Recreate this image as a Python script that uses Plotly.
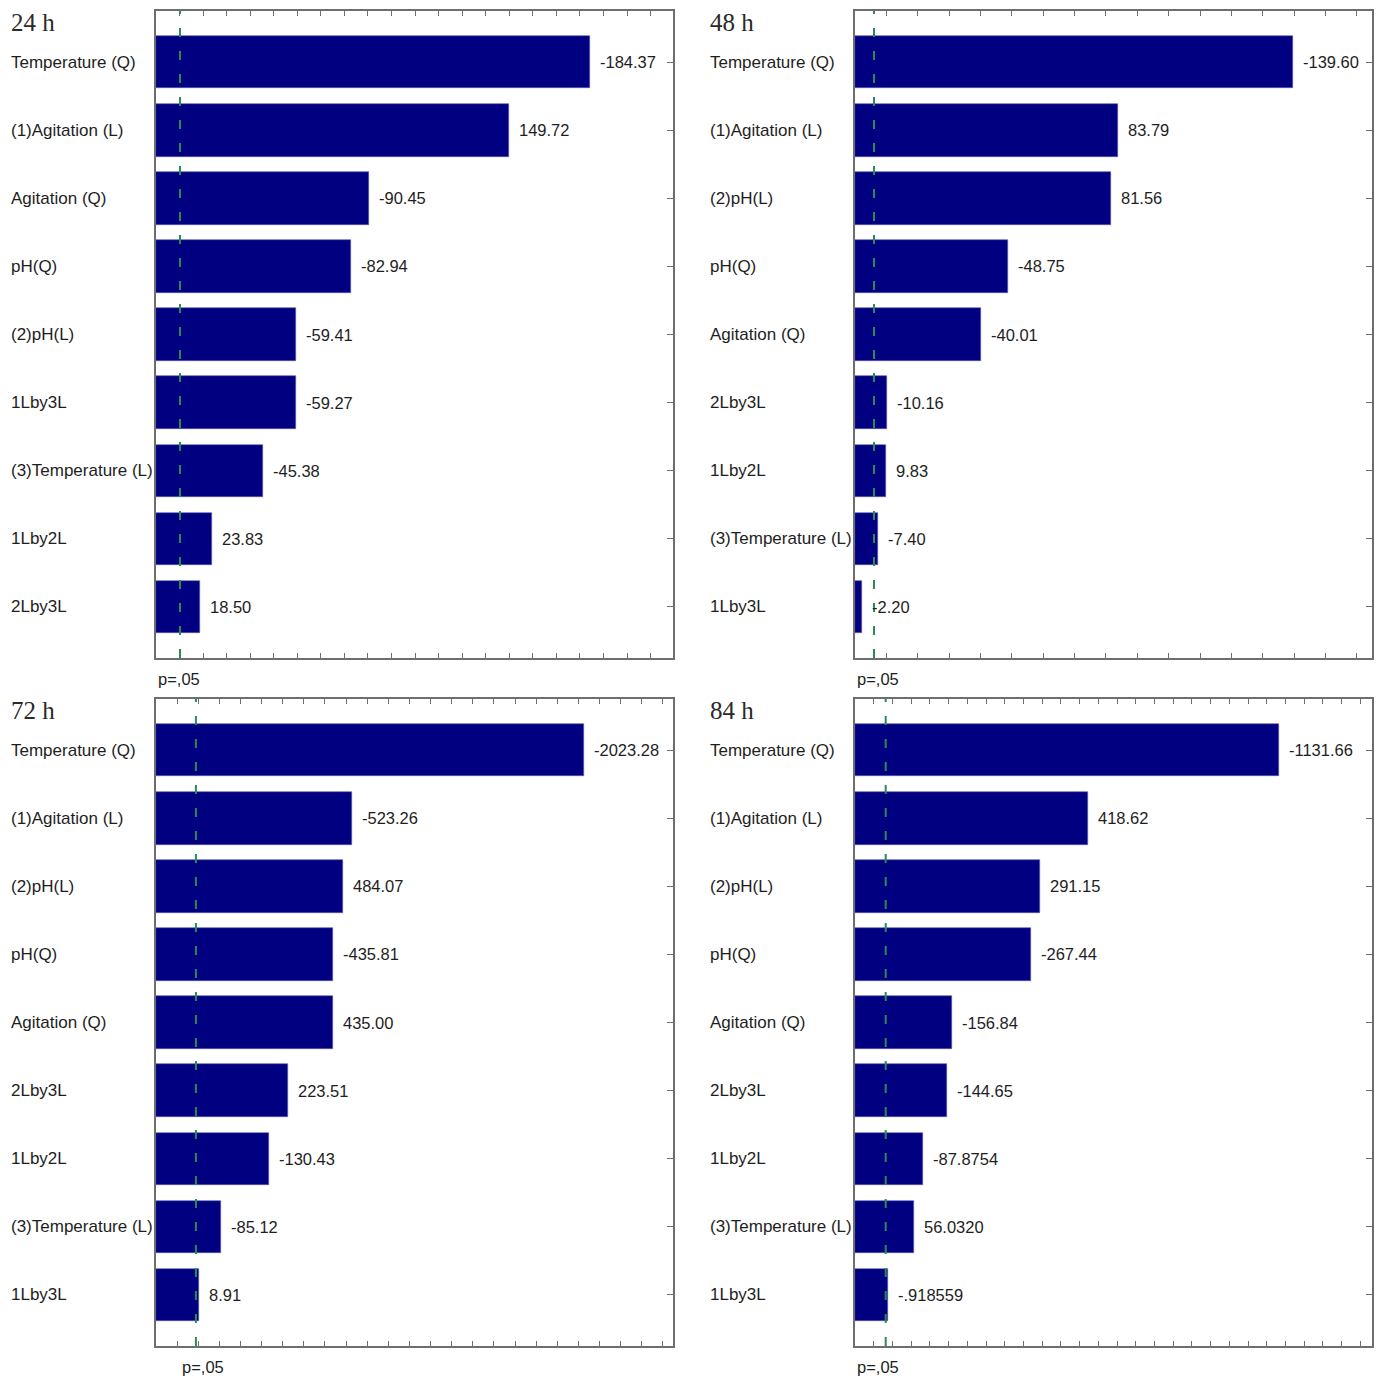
import plotly.graph_objects as go
from plotly.subplots import make_subplots

# ---------------- data ----------------
titles = ["24 h", "48 h", "72 h", "84 h"]

cats_24 = ["Temperature (Q)", "(1)Agitation (L)", "Agitation (Q)", "pH(Q)", "(2)pH(L)",
           "1Lby3L", "(3)Temperature (L)", "1Lby2L", "2Lby3L"]
labels_24 = ["-184.37", "149.72", "-90.45", "-82.94", "-59.41", "-59.27", "-45.38", "23.83", "18.50"]
effects_24 = [184.37, 149.72, 90.45, 82.94, 59.41, 59.27, 45.38, 23.83, 18.50]
p05_24 = 10.2
xmax_24 = 219.5

cats_48 = ["Temperature (Q)", "(1)Agitation (L)", "(2)pH(L)", "pH(Q)", "Agitation (Q)",
           "2Lby3L", "1Lby2L", "(3)Temperature (L)", "1Lby3L"]
labels_48 = ["-139.60", "83.79", "81.56", "-48.75", "-40.01", "-10.16", "9.83", "-7.40", "-2.20"]
effects_48 = [139.60, 83.79, 81.56, 48.75, 40.01, 10.16, 9.83, 7.40, 2.20]
p05_48 = 6.06
xmax_48 = 164.8

cats_72 = ["Temperature (Q)", "(1)Agitation (L)", "(2)pH(L)", "pH(Q)", "Agitation (Q)",
           "2Lby3L", "1Lby2L", "(3)Temperature (L)", "1Lby3L"]
labels_72 = ["-2023.28", "-523.26", "484.07", "-435.81", "435.00", "223.51", "-130.43", "-85.12", "8.91"]
effects_72 = [202.7, 92.8, 88.5, 83.9, 83.7, 62.5, 53.5, 30.8, 20.4]
p05_72 = 18.9
xmax_72 = 244.8

cats_84 = ["Temperature (Q)", "(1)Agitation (L)", "(2)pH(L)", "pH(Q)", "Agitation (Q)",
           "2Lby3L", "1Lby2L", "(3)Temperature (L)", "1Lby3L"]
labels_84 = ["-1131.66", "418.62", "291.15", "-267.44", "-156.84", "-144.65", "-87.8754", "56.0320", "-.918559"]
effects_84 = [226.5, 124.3, 98.7, 93.9, 52.0, 49.3, 36.2, 31.5, 17.6]
p05_84 = 16.4
xmax_84 = 276.2

p_label = "p=,05"
p_label_at_line = [False, False, True, False]

panels = [
    (cats_24, labels_24, effects_24, p05_24, xmax_24),
    (cats_48, labels_48, effects_48, p05_48, xmax_48),
    (cats_72, labels_72, effects_72, p05_72, xmax_72),
    (cats_84, labels_84, effects_84, p05_84, xmax_84),
]

# ---------------- figure ----------------
W, H = 1380, 1378
fig = make_subplots(rows=2, cols=2)

xdoms = [[156 / W, 673 / W], [855 / W, 1372 / W]]
ydoms = [[1 - 658 / H, 1 - 11 / H], [1 - 1346 / H, 1 - 699 / H]]

NAVY = "#000080"
AXC = "#6e6e6e"
GREEN = "#2a8c55"
TXT = "#1e1e1e"
SANS = "Liberation Sans, Arial, sans-serif"
SERIF = "Liberation Serif, Times New Roman, serif"

for k, (cats, labels, effects, p05, xmax) in enumerate(panels):
    r, c = k // 2 + 1, k % 2 + 1
    idx = list(range(len(cats)))
    fig.add_trace(go.Bar(
        x=effects, y=idx, orientation="h", width=0.765,
        marker=dict(color=NAVY, line=dict(color="#5c5cb0", width=0.6)),
        showlegend=False, hoverinfo="skip",
    ), row=r, col=c)

    n = k + 1
    xa = "x" if n == 1 else f"x{n}"
    ya = "y" if n == 1 else f"y{n}"

    fig.update_xaxes(row=r, col=c, domain=xdoms[c - 1], range=[0, xmax],
                     showgrid=False, zeroline=False, showline=True, linecolor=AXC, linewidth=1.5,
                     mirror="ticks", ticks="inside", ticklen=5, tickwidth=1, tickcolor=AXC,
                     tick0=0, dtick=10, showticklabels=False)
    fig.update_yaxes(row=r, col=c, domain=ydoms[r - 1], range=[len(cats) - 1 + 0.757, -0.757],
                     showgrid=False, zeroline=False, showline=True, linecolor=AXC, linewidth=1.5,
                     mirror=True, side="right", ticks="inside", ticklen=6, tickwidth=1, tickcolor=AXC,
                     tickvals=idx, showticklabels=False)

    # p=.05 dashed line
    fig.add_shape(type="line", xref=xa, yref=f"{ya} domain", x0=p05, x1=p05, y0=0, y1=1,
                  line=dict(color=GREEN, width=2, dash="9px,14px"), layer="above")

    # category labels
    for i, cat in enumerate(cats):
        fig.add_annotation(xref=f"{xa} domain", yref=ya, x=-0.284, y=i, text=cat,
                           xanchor="left", yanchor="middle", showarrow=False,
                           font=dict(family=SANS, size=17, color=TXT))
    # value labels
    for i, (v, lab) in enumerate(zip(effects, labels)):
        fig.add_annotation(xref=xa, yref=ya, x=v, y=i, text=lab, xshift=8,
                           xanchor="left", yanchor="middle", showarrow=False,
                           font=dict(family=SANS, size=16.5, color=TXT))
    # panel title
    fig.add_annotation(xref=f"{xa} domain", yref=f"{ya} domain", x=-0.284, y=1, yshift=-11,
                       text=titles[k], xanchor="left", yanchor="middle", showarrow=False,
                       font=dict(family=SERIF, size=25, color="#2a2a2a"))
    # p label
    if p_label_at_line[k]:
        fig.add_annotation(xref=xa, yref=f"{ya} domain", x=p05, y=0, yshift=-21, xshift=7,
                           text=p_label, xanchor="center", yanchor="middle", showarrow=False,
                           font=dict(family=SANS, size=16.5, color=TXT))
    else:
        fig.add_annotation(xref=f"{xa} domain", yref=f"{ya} domain", x=0, y=0, yshift=-21,
                           text=p_label, xanchor="left", yanchor="middle", showarrow=False,
                           font=dict(family=SANS, size=16.5, color=TXT))

fig.update_layout(width=W, height=H, margin=dict(l=0, r=0, t=0, b=0),
                  paper_bgcolor="white", plot_bgcolor="white", bargap=0)

fig.write_html("out.html")
